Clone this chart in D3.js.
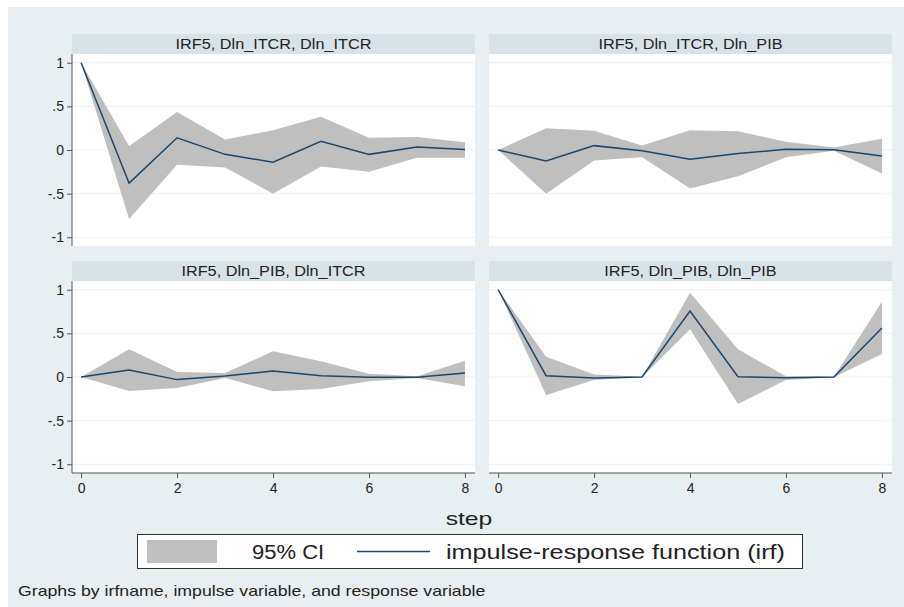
<!DOCTYPE html>
<html>
<head>
<meta charset="utf-8">
<script src="https://cdn.jsdelivr.net/npm/d3@7/dist/d3.min.js"></script>
<style>
  body { margin: 0; background: #fff; }
  text { font-family: Arial, "Liberation Sans", sans-serif; fill: #222; }
</style>
</head>
<body>
<div id="irf"></div>
<script>
// steps on the horizontal axis
var steps = [0, 1, 2, 3, 4, 5, 6, 7, 8];
var xTicks = [0, 2, 4, 6, 8];
var yTicks = [-1, -0.5, 0, 0.5, 1];
var yTickLabels = ['-1', '-.5', '0', '.5', '1'];

var panelTitles = [
  'IRF5, Dln_ITCR, Dln_ITCR',
  'IRF5, Dln_ITCR, Dln_PIB',
  'IRF5, Dln_PIB, Dln_ITCR',
  'IRF5, Dln_PIB, Dln_PIB'
];

// impulse Dln_ITCR -> response Dln_ITCR
var irfItcrItcr = [1, -0.38, 0.14, -0.05, -0.14, 0.1, -0.05, 0.035, 0.005];
var loItcrItcr = [1, -0.79, -0.17, -0.2, -0.5, -0.19, -0.25, -0.09, -0.09];
var hiItcrItcr = [1, 0.046, 0.435, 0.12, 0.225, 0.38, 0.14, 0.15, 0.09];

// impulse Dln_ITCR -> response Dln_PIB
var irfItcrPib = [0, -0.126, 0.05, -0.008, -0.107, -0.04, 0.008, 0.004, -0.07];
var loItcrPib = [0, -0.5, -0.12, -0.084, -0.44, -0.3, -0.084, -0.008, -0.27];
var hiItcrPib = [0, 0.25, 0.22, 0.053, 0.225, 0.214, 0.095, 0.03, 0.13];

// impulse Dln_PIB -> response Dln_ITCR
var irfPibItcr = [0, 0.08, -0.03, 0.011, 0.069, 0.015, -0.004, -0.004, 0.046];
var loPibItcr = [0, -0.16, -0.126, -0.011, -0.164, -0.137, -0.05, -0.011, -0.107];
var hiPibItcr = [0, 0.317, 0.057, 0.046, 0.294, 0.18, 0.038, 0.008, 0.187];

// impulse Dln_PIB -> response Dln_PIB
var irfPibPib = [1, 0.015, -0.011, 0, 0.756, 0.004, -0.008, 0, 0.561];
var loPibPib = [1, -0.206, -0.034, -0.003, 0.546, -0.309, -0.034, -0.002, 0.263];
var hiPibPib = [1, 0.233, 0.03, 0.003, 0.966, 0.317, 0.008, 0.002, 0.863];

var legendLabels = ['95% CI', 'impulse-response function (irf)'];
var xTitle = 'step';
var note = 'Graphs by irfname, impulse variable, and response variable';

// colours
var bgColor = '#e8eff2',
  stripColor = '#d8e3e9',
  gridColor = '#eaf1f4',
  ciColor = '#bfbfbf',
  irfColor = '#1a476f',
  axisColor = '#555';

var width = 904,
  height = 607;

// Stata text comes out a bit wider than Arial, so stretch it
function stretch(sel, k) {
  sel.each(function () {
    var w = this.getComputedTextLength();
    d3.select(this).attr('textLength', w * k).attr('lengthAdjust', 'spacingAndGlyphs');
  });
}

var svg = d3
  .select('#irf')
  .append('svg')
  .attr('width', width)
  .attr('height', height);

// outer background
svg
  .append('rect')
  .attr('x', 8)
  .attr('y', 7)
  .attr('width', width - 8)
  .attr('height', height - 7)
  .attr('fill', bgColor);

// panel geometry: two columns, two rows
var cols = [
  [72, 475],
  [489, 892]
];
var rows = [
  [54, 246],
  [281, 473]
];
var stripH = 20;

var panels = [
  {title: panelTitles[0], irf: irfItcrItcr, lo: loItcrItcr, hi: hiItcrItcr, c: 0, r: 0},
  {title: panelTitles[1], irf: irfItcrPib, lo: loItcrPib, hi: hiItcrPib, c: 1, r: 0},
  {title: panelTitles[2], irf: irfPibItcr, lo: loPibItcr, hi: hiPibItcr, c: 0, r: 1},
  {title: panelTitles[3], irf: irfPibPib, lo: loPibPib, hi: hiPibPib, c: 1, r: 1}
];

panels.forEach(function (p) {
  var x0 = cols[p.c][0],
    x1 = cols[p.c][1],
    y0 = rows[p.r][0],
    y1 = rows[p.r][1];

  var x = d3.scaleLinear().domain([-0.19, 8.21]).range([x0, x1]);
  var y = d3.scaleLinear().domain([-1.1, 1.1]).range([y1, y0]);

  var g = svg.append('g');

  // strip with title
  g.append('rect')
    .attr('x', x0)
    .attr('y', y0 - stripH)
    .attr('width', x1 - x0)
    .attr('height', stripH)
    .attr('fill', stripColor);
  g.append('text')
    .attr('x', (x0 + x1) / 2)
    .attr('y', y0 - 5)
    .attr('text-anchor', 'middle')
    .style('font-size', '14px')
    .text(p.title)
    .call(stretch, 1.16);

  // plot region
  g.append('rect')
    .attr('x', x0)
    .attr('y', y0)
    .attr('width', x1 - x0)
    .attr('height', y1 - y0)
    .attr('fill', '#fff');

  // grid lines
  g.selectAll('.grid')
    .data(yTicks)
    .enter()
    .append('line')
    .attr('x1', x0)
    .attr('x2', x1)
    .attr('y1', function (d) { return y(d); })
    .attr('y2', function (d) { return y(d); })
    .attr('stroke', gridColor)
    .attr('stroke-width', 1);

  // confidence band
  var area = d3
    .area()
    .x(function (d, i) { return x(steps[i]); })
    .y0(function (d, i) { return y(p.lo[i]); })
    .y1(function (d, i) { return y(p.hi[i]); });
  g.append('path').datum(steps).attr('d', area).attr('fill', ciColor);

  // irf line
  var line = d3
    .line()
    .x(function (d, i) { return x(steps[i]); })
    .y(function (d) { return y(d); });
  g.append('path')
    .datum(p.irf)
    .attr('d', line)
    .attr('fill', 'none')
    .attr('stroke', irfColor)
    .attr('stroke-width', 1.5);

  // y axis on the left column only
  if (p.c == 0) {
    var ya = g
      .append('g')
      .attr('transform', 'translate(' + x0 + ',0)')
      .call(
        d3.axisLeft(y)
          .tickValues(yTicks)
          .tickSize(5)
          .tickPadding(3)
          .tickFormat(function (d, i) { return yTickLabels[i]; })
      );
    ya.select('.domain').attr('d', 'M0,' + y0 + 'V' + y1);
    ya.selectAll('line, path').attr('stroke', axisColor);
    ya.selectAll('text').style('font-size', '14px').attr('fill', '#222');
  }

  // x axis on the bottom row only
  if (p.r == 1) {
    var xa = g
      .append('g')
      .attr('transform', 'translate(0,' + y1 + ')')
      .call(d3.axisBottom(x).tickValues(xTicks).tickSize(5).tickPadding(5).tickFormat(d3.format('d')));
    xa.select('.domain').attr('d', 'M' + x0 + ',0H' + x1);
    xa.selectAll('line, path').attr('stroke', axisColor);
    xa.selectAll('text').style('font-size', '14px').attr('fill', '#222');
  }
});

// x axis title
svg
  .append('text')
  .attr('x', 469)
  .attr('y', 525)
  .attr('text-anchor', 'middle')
  .style('font-size', '19px')
  .text(xTitle)
  .call(stretch, 1.3);

// legend
var legend = svg.append('g');
legend
  .append('rect')
  .attr('x', 137.5)
  .attr('y', 534.5)
  .attr('width', 665)
  .attr('height', 34)
  .attr('fill', '#fff')
  .attr('stroke', '#333');
legend
  .append('rect')
  .attr('x', 147)
  .attr('y', 540)
  .attr('width', 70)
  .attr('height', 23)
  .attr('fill', ciColor);
legend
  .append('text')
  .attr('x', 252)
  .attr('y', 559)
  .style('font-size', '20px')
  .text(legendLabels[0])
  .call(stretch, 1.1);
legend
  .append('line')
  .attr('x1', 357)
  .attr('x2', 430)
  .attr('y1', 551.5)
  .attr('y2', 551.5)
  .attr('stroke', irfColor)
  .attr('stroke-width', 1.5);
legend
  .append('text')
  .attr('x', 446)
  .attr('y', 559)
  .style('font-size', '20px')
  .text(legendLabels[1])
  .call(stretch, 1.26);

// note
svg
  .append('text')
  .attr('x', 18)
  .attr('y', 596)
  .style('font-size', '15px')
  .text(note)
  .call(stretch, 1.18);
</script>
</body>
</html>
